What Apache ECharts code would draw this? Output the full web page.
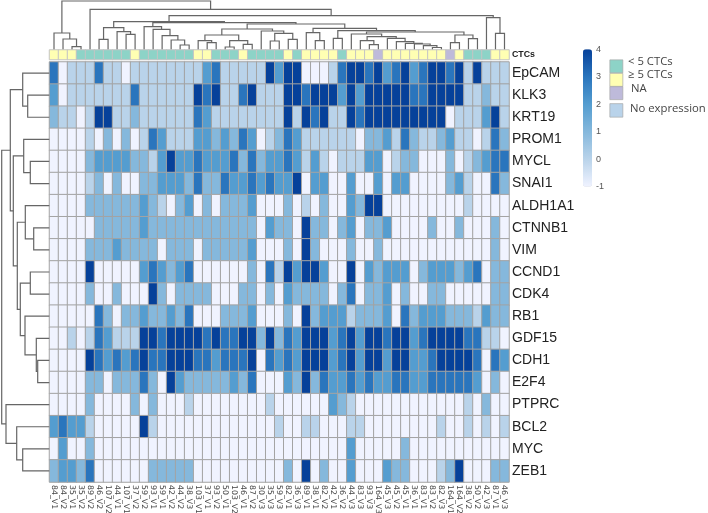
<!DOCTYPE html>
<html><head><meta charset="utf-8">
<script src="https://cdn.jsdelivr.net/npm/echarts@6/dist/echarts.min.js"></script>
<style>html,body{margin:0;padding:0;background:#fff}#c{width:708px;height:513px}</style>
</head><body><div id="c"></div>
<script>
const samples = ["84_V1","84_V2","35_V1","35_V2","89_V2","46_V2","107_V2","44_V1","107_V1","37_V2","59_V2","93_V1","59_V1","42_V2","44_V2","38_V3","103_V1","37_V1","93_V2","50_V1","103_V2","46_V1","87_V2","30_V3","35_V3","59_V3","82_V1","36_V3","89_V1","38_V1","82_V2","42_V1","36_V2","44_V3","83_V3","93_V3","164_V3","45_V3","45_V2","45_V1","36_V1","83_V1","83_V2","82_V3","164_V1","164_V2","38_V2","50_V2","42_V3","87_V1","46_V3"];
const genes = ["EpCAM","KLK3","KRT19","PROM1","MYCL","SNAI1","ALDH1A1","CTNNB1","VIM","CCND1","CDK4","RB1","GDF15","CDH1","E2F4","PTPRC","BCL2","MYC","ZEB1"];
const CTCs = ["y","y","y","t","t","t","t","t","t","y","t","t","t","t","t","t","y","y","t","t","t","y","t","t","t","t","y","t","y","y","y","y","t","y","y","y","n","y","y","y","y","y","y","y","n","y","t","t","t","y","y"];

const EpCAM  = [3,-1,0,0,0,3,0,0,-1,0,0,0,0,0,0,0,0,2,3,0,0,0,0,0,4,2,4,4,-1,-1,-1,0,3,4,4,3,4,2,3,4,2,3,4,4,3,4,0,4,0,0,0];
const KLK3   = [2,-1,0,0,0,0,0,0,0,3,0,0,0,0,0,0,4,3,4,0,0,3,4,0,0,0,4,4,3,4,4,4,2,4,2,4,4,4,4,4,3,3,4,4,4,4,0,0,1,0,0];
const KRT19  = [1,0,0,-1,0,4,4,0,0,1,0,0,0,0,0,0,3,2,0,0,0,0,0,0,0,0,4,0,4,3,4,0,0,4,3,4,4,4,4,4,4,4,4,4,-1,0,0,0,2,4,0];
const PROM1  = [-1,-1,-1,-1,0,-1,1,-1,1,-1,0,3,2,0,0,0,2,2,1,2,1,3,2,-1,0,1,3,2,0,0,0,0,0,0,-1,1,1,2,0,3,1,0,0,1,2,0,0,-1,0,3,1];
const MYCL   = [-1,-1,-1,-1,1,2,2,2,2,1,1,0,2,4,2,2,3,2,2,2,3,1,3,1,2,2,3,2,0,2,0,-1,0,0,0,2,2,-1,0,1,1,-1,-1,-1,1,-1,0,1,2,3,3];
const SNAI1  = [-1,-1,-1,-1,0,1,-1,1,-1,-1,1,1,2,2,2,1,3,1,1,3,2,2,3,2,3,2,2,4,-1,2,2,-1,-1,2,-1,-1,2,-1,2,2,-1,-1,-1,-1,1,2,0,-1,-1,3,1];
const ALDH1A1= [-1,-1,-1,-1,1,1,1,1,1,1,2,1,0,-1,1,2,-1,1,-1,1,1,1,2,-1,-1,-1,1,-1,0,-1,1,-1,-1,2,1,4,4,-1,-1,-1,-1,-1,-1,-1,-1,-1,0,-1,-1,-1,-1];
const CTNNB1 = [-1,-1,-1,-1,-1,1,1,1,1,1,2,1,1,1,1,1,1,1,1,1,1,1,1,-1,2,1,1,-1,4,1,1,-1,1,2,-1,1,1,2,-1,-1,-1,-1,1,-1,-1,1,-1,-1,-1,1,-1];
const VIM    = [-1,-1,-1,-1,1,1,1,2,1,1,1,1,-1,1,1,1,-1,1,1,1,1,1,2,-1,-1,-1,1,-1,4,1,-1,-1,-1,1,-1,-1,1,-1,-1,-1,-1,-1,-1,-1,-1,-1,-1,-1,-1,1,-1];
const CCND1  = [-1,-1,-1,-1,4,-1,-1,-1,-1,-1,2,3,2,1,2,3,-1,-1,-1,-1,-1,-1,1,-1,3,0,4,2,4,4,2,-1,-1,4,-1,2,1,2,2,2,-1,1,2,2,2,1,2,3,-1,1,1];
const CDK4   = [-1,-1,-1,-1,1,-1,-1,1,-1,-1,-1,4,1,-1,1,1,1,1,-1,-1,-1,1,1,-1,1,-1,2,1,1,1,1,-1,1,3,-1,1,1,2,-1,1,-1,-1,1,1,-1,-1,-1,-1,-1,1,1];
const RB1    = [-1,-1,-1,-1,-1,3,1,-1,1,1,2,1,1,2,1,3,-1,-1,-1,1,1,1,2,-1,-1,-1,1,-1,4,1,2,2,2,0,1,1,1,2,-1,3,1,2,2,2,1,1,1,0,2,1,1];
const GDF15  = [-1,-1,0,-1,0,3,2,0,0,0,4,4,3,4,4,4,4,3,4,3,3,4,4,1,4,1,3,2,4,4,4,2,3,4,2,4,4,3,4,4,2,3,4,4,4,4,3,3,0,0,-1];
const CDH1   = [-1,-1,-1,-1,4,3,2,3,2,3,4,3,3,4,4,4,3,3,2,3,3,3,4,-1,3,2,3,2,4,4,4,2,3,4,2,4,4,2,4,4,2,2,3,4,4,4,4,3,-1,3,2];
const E2F4   = [-1,-1,-1,-1,1,1,-1,1,1,1,3,1,-1,4,2,1,1,1,1,1,2,1,3,-1,-1,-1,2,1,4,1,3,2,2,3,2,3,2,2,3,3,2,2,3,3,3,3,3,2,-1,1,-1];
const PTPRC  = [-1,-1,-1,-1,1,-1,-1,-1,-1,1,-1,1,-1,-1,-1,0,-1,-1,-1,-1,-1,-1,-1,-1,0,-1,-1,-1,-1,-1,-1,2,1,0,-1,-1,-1,-1,-1,-1,-1,-1,-1,-1,-1,-1,0,-1,1,-1,-1];
const BCL2   = [2,3,2,2,0,-1,-1,-1,-1,-1,4,0,-1,-1,-1,-1,-1,-1,-1,-1,-1,-1,-1,-1,-1,0,-1,-1,0,0,-1,-1,-1,0,0,-1,-1,-1,-1,-1,-1,-1,-1,0,-1,-1,0,-1,0,-1,0];
const MYC    = [-1,2,-1,-1,1,-1,-1,-1,-1,-1,-1,-1,-1,-1,-1,-1,-1,-1,-1,-1,-1,-1,-1,-1,-1,-1,-1,-1,-1,-1,-1,-1,-1,2,-1,-1,-1,-1,-1,1,-1,-1,-1,-1,-1,-1,-1,-1,-1,-1,-1];
const ZEB1   = [1,2,2,1,3,-1,-1,-1,-1,-1,-1,1,1,1,1,1,-1,-1,-1,-1,-1,-1,-1,-1,-1,-1,1,-1,4,-1,1,-1,-1,2,-1,-1,-1,2,1,1,-1,-1,-1,0,1,4,-1,-1,-1,1,1];
const matrix = [EpCAM,KLK3,KRT19,PROM1,MYCL,SNAI1,ALDH1A1,CTNNB1,VIM,CCND1,CDK4,RB1,GDF15,CDH1,E2F4,PTPRC,BCL2,MYC,ZEB1];

/* dendrograms as [merge height, left, right]; a bare number is a leaf index */
const columnTree = [48.3,[16.3,0,[10.3,1,[2.6,2,3]]],[40,4,[33.6,[27.6,[21.6,[10,5,6],[17.6,7,[15,8,9]]],[26.6,[22.6,10,[20,11,[13.6,12,[9.3,13,[4.3,14,15]]]]],[25.3,[20.3,[14.3,[8.6,16,[6.6,17,18]],[8.6,[2.3,19,20],[5,21,22]]],[18.3,23,[16,[8.3,24,25],[10,26,27]]]],[21,[16.6,28,[8.6,29,30]],[18.6,[11,31,32],[17.3,[15.3,33,[12.6,[8.6,34,[4.6,35,36]],[11,37,[7.6,38,[6,39,[5.3,40,[3.6,41,[1.8,42,43]]]]]]]],[14.3,[6.6,44,45],[10.6,46,47]]]]]]]],[31.6,48,[16,49,50]]]]];
const rowTree = [47.6,[39,[26.6,0,[21.6,1,2]],[36,[25.6,3,[19,4,5]],[32,[24,6,[15.6,7,8]],[29,[19,9,10],[24.3,11,[13,12,[11.6,13,14]]]]]]],[43.3,15,[32.6,16,[26.6,17,18]]]];

const ramp = ['#f0f3ff','#b9d3ea','#85b8dc','#549dd0','#2a75bd','#06419a'];
const ctcColor = {t:'#8dd3c7',y:'#ffffb3',n:'#bebada'};
const legendItems = [['< 5 CTCs','#8dd3c7',628,64],['≥ 5 CTCs','#ffffb3',628,77],['NA','#bebada',631,91],['No expression','#b9d3ea',630,110.5]];
const DH = 49.3;

function links(tree){
  const out=[];
  (function walk(n){
    if(typeof n==='number') return {p:n+0.5,h:0};
    const a=walk(n[1]), b=walk(n[2]);
    out.push([a.p,a.h,b.p,b.h,n[0]]);
    return {p:(a.p+b.p)/2,h:n[0]};
  })(tree);
  return out;
}
const lineStyle={stroke:'#666',lineWidth:1.2,fill:null};
function dendro(horizontal,xi,yi,tree){
  return {type:'custom',xAxisIndex:xi,yAxisIndex:yi,silent:true,clip:false,data:links(tree),
    renderItem(params,api){
      const a=api.value(0),ah=api.value(1),b=api.value(2),bh=api.value(3),h=api.value(4);
      const c=(p,v)=>api.coord(horizontal?[p,v]:[v,p]);
      return {type:'polyline',shape:{points:[c(a,ah),c(a,h),c(b,h),c(b,bh)]},style:lineStyle};
    }};
}
const hmData=[];
matrix.forEach((row,r)=>row.forEach((v,c)=>hmData.push([c,r,v])));
const border={borderColor:'#a3a3a3',borderWidth:1};

const graphic=[{type:'text',left:512,top:50.5,style:{text:'CTCs',font:'bold 8.8px "Liberation Sans"',fill:'#222'}}];
legendItems.forEach((it,i)=>{
  const top=[59.5,73,86.3,103.3][i];
  graphic.push({type:'rect',left:609.5,top:top,shape:{width:13,height:i===3?13.5:13},style:{fill:it[1],stroke:'#a8a8a8',lineWidth:0.7}});
  graphic.push({type:'text',left:it[2],top:it[3]-7.5,style:{text:it[0],font:'11.3px "Open Sans"',fill:'#444'}});
});

const chart=echarts.init(document.getElementById('c'),null,{renderer:'canvas'});
chart.setOption({
  animation:false,backgroundColor:'#fff',
  grid:[
    {left:49.5,top:62,width:459.5,height:420,outerBoundsMode:'none'},
    {left:49.5,top:50,width:459.5,height:9.5,outerBoundsMode:'none'},
    {left:49.5,top:0,width:459.5,height:DH,outerBoundsMode:'none'},
    {left:0,top:62,width:DH,height:420,outerBoundsMode:'none'},
    {left:583,top:49.3,width:9,height:137.4,outerBoundsMode:'none'}
  ],
  xAxis:[
    {type:'category',gridIndex:0,data:samples,position:'bottom',axisLine:{show:false},axisTick:{show:false},splitLine:{show:false},
     axisLabel:{interval:0,rotate:-90,fontSize:7.8,color:'#444',margin:3,fontFamily:'DejaVu Sans'}},
    {type:'category',gridIndex:1,data:samples,show:false},
    {type:'value',gridIndex:2,min:0,max:51,show:false},
    {type:'value',gridIndex:3,min:0,max:DH,inverse:true,show:false},
    {type:'value',gridIndex:4,show:false}
  ],
  yAxis:[
    {type:'category',gridIndex:0,data:genes,inverse:true,position:'right',axisLine:{show:false},axisTick:{show:false},splitLine:{show:false},
     axisLabel:{interval:0,fontSize:14,color:'#222',margin:3,fontFamily:'Liberation Sans'}},
    {type:'category',gridIndex:1,data:['CTCs'],show:false},
    {type:'value',gridIndex:2,min:0,max:DH,show:false},
    {type:'value',gridIndex:3,min:0,max:19,inverse:true,show:false},
    {type:'value',gridIndex:4,min:-1,max:4,interval:1,position:'right',axisLine:{show:false},axisTick:{show:false},splitLine:{show:false},
     axisLabel:{fontSize:9,color:'#555',margin:4,fontFamily:'Liberation Sans'}}
  ],
  visualMap:{type:'continuous',min:-1,max:4,seriesIndex:0,left:583,top:49.3,itemWidth:9,itemHeight:137.4,padding:0,calculable:false,hoverLink:false,text:null,showLabel:false,inRange:{color:ramp}},
  series:[
    {type:'heatmap',xAxisIndex:0,yAxisIndex:0,data:hmData,itemStyle:border,emphasis:{disabled:true},silent:true,progressive:0},
    {type:'heatmap',xAxisIndex:1,yAxisIndex:1,silent:true,itemStyle:border,emphasis:{disabled:true},
     data:CTCs.map((k,i)=>({value:[i,0,1],itemStyle:{color:ctcColor[k],borderColor:'#c4c4c4',borderWidth:1}}))},
    dendro(true,2,2,columnTree),
    dendro(false,3,3,rowTree)
  ],
  graphic:graphic
});
</script></body></html>
